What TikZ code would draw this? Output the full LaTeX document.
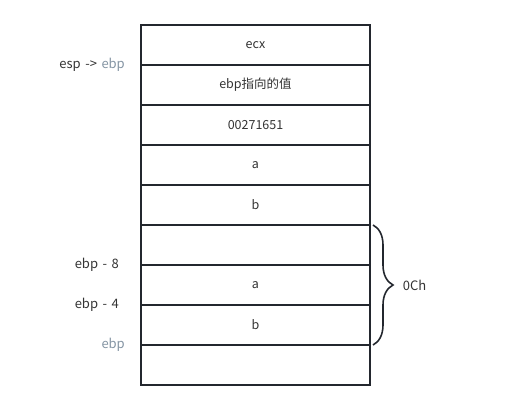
\documentclass[tikz,border=0pt]{standalone}
\usepackage{fontspec}
\setmainfont{Noto Sans CJK SC}
\usetikzlibrary{decorations.pathreplacing}
\usepackage{xcolor}
\definecolor{linecol}{HTML}{23272E}
\definecolor{textcol}{HTML}{333333}
\definecolor{regcol}{HTML}{8494A3}
\newcommand{\lblfont}{\fontsize{13}{15}\selectfont\spaceskip=4.5pt\relax}

\begin{document}
\begin{tikzpicture}[x=1pt,y=-1pt,
  cell/.style={draw=linecol,line width=1.6pt,outer sep=0pt,inner sep=0pt,
    minimum width=229pt,minimum height=40pt,text=textcol,
    font=\fontsize{12.5}{15}\selectfont},
  lbl/.style={inner sep=0pt,text=textcol,font=\lblfont}]
\useasboundingbox (0,0) rectangle (511,409);
\node [cell] (ecx) at (255.5,45) {ecx};
\node [cell,below=0pt,at=(ecx.south)] (oldebp) {ebp指向的值};
\node [cell,below=0pt,at=(oldebp.south)] (ret) {00271651};
\node [cell,below=0pt,at=(ret.south)] (arga) {a};
\node [cell,below=0pt,at=(arga.south)] (argb) {b};
\node [cell,below=0pt,at=(argb.south)] (free) {};
\node [cell,below=0pt,at=(free.south)] (loca) {a};
\node [cell,below=0pt,at=(loca.south)] (locb) {b};
\node [cell,below=0pt,at=(locb.south)] (base) {};

\node [lbl,left=16pt,at=(oldebp.north west)] (esp) {esp -> \textcolor{regcol}{ebp}};
\node [lbl,left=22pt,at=(loca.north west)] (ebpeight) {ebp - 8};
\node [lbl,left=22pt,at=(locb.north west)] (ebpfour) {ebp - 4};
\node [lbl,left=16pt,at=(base.north west),text=regcol] (ebp) {ebp};

\coordinate (bracetop) at ([xshift=3pt]free.north east);
\coordinate (bracebot) at ([xshift=3pt]locb.south east);
\draw [draw=linecol,line width=1.6pt,decorate,decoration={brace,amplitude=20pt}]
  (bracetop) -- node [lbl,right=29pt] (size) {0Ch} (bracebot);
\end{tikzpicture}
\end{document}
